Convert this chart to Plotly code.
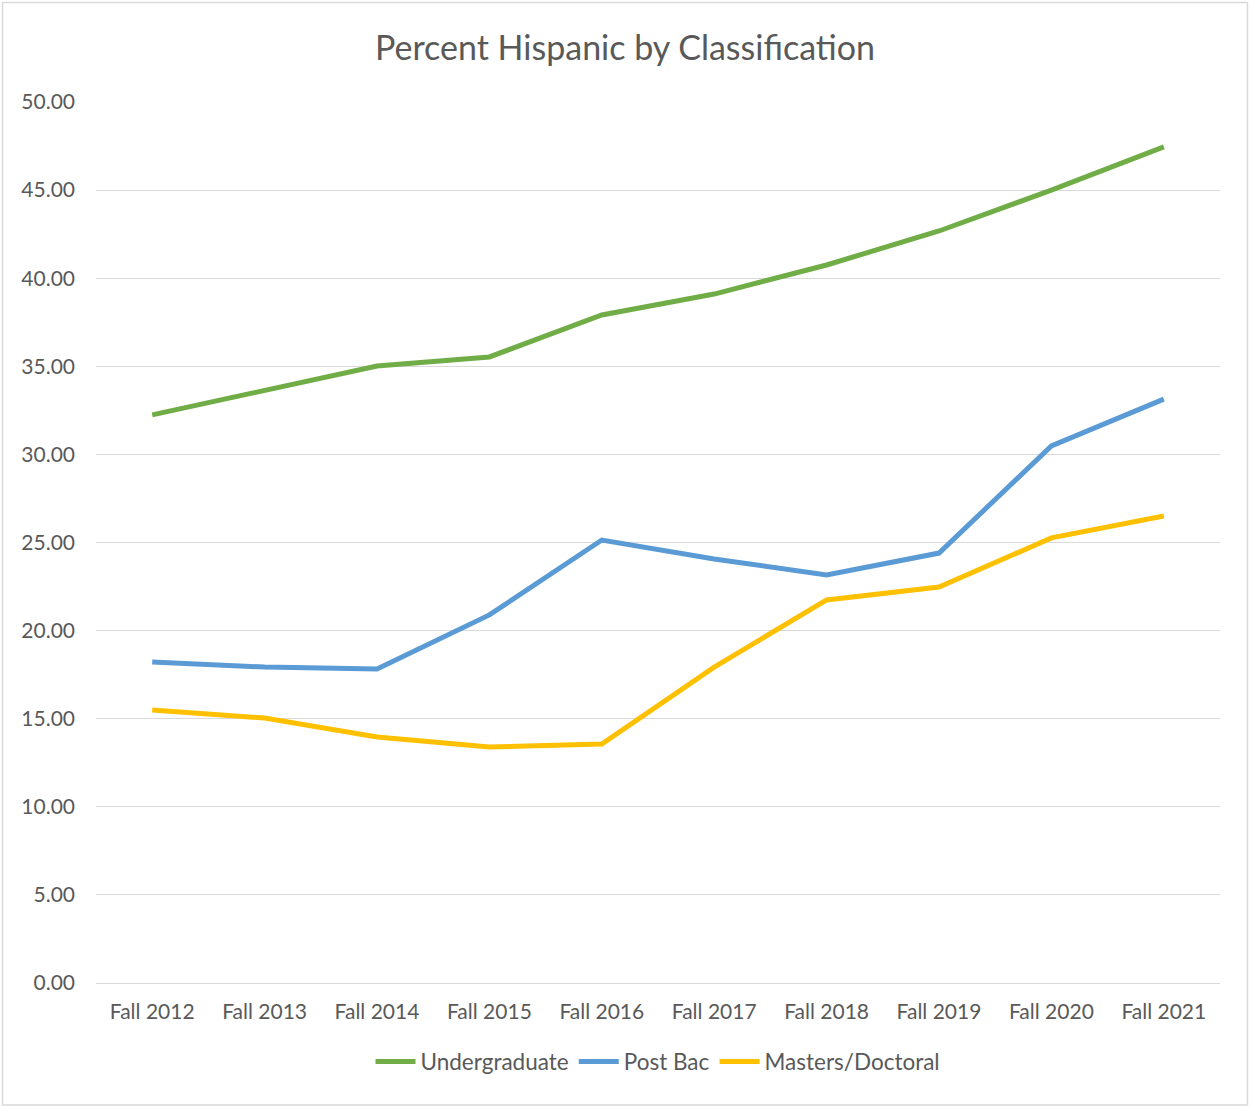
import plotly.graph_objects as go

years = ["Fall 2012", "Fall 2013", "Fall 2014", "Fall 2015", "Fall 2016",
         "Fall 2017", "Fall 2018", "Fall 2019", "Fall 2020", "Fall 2021"]
undergraduate = [32.24, 33.60, 35.02, 35.53, 37.91, 39.10, 40.75, 42.68, 45.00, 47.45]
post_bac = [18.22, 17.93, 17.82, 20.89, 25.14, 24.06, 23.16, 24.40, 30.48, 33.14]
masters_doctoral = [15.49, 15.04, 13.96, 13.39, 13.56, 17.93, 21.74, 22.47, 25.26, 26.50]

series = [
    ("Undergraduate", undergraduate, "#70AD47"),
    ("Post Bac", post_bac, "#5B9BD5"),
    ("Masters/Doctoral", masters_doctoral, "#FFC000"),
]

FONT = "Lato, Carlito, Calibri, sans-serif"
GREY = "#595959"

fig = go.Figure()
for name, values, color in series:
    fig.add_trace(go.Scatter(
        x=years, y=values, name=name, mode="lines",
        line=dict(color=color, width=5),
    ))

# plot area: x 96..1220, y 102..983
pw, ph = 1124, 881
fig.add_shape(
    type="rect", xref="paper", yref="paper", layer="below",
    x0=(2.5 - 96) / pw, x1=(1247.5 - 96) / pw,
    y0=(983 - 1105) / ph, y1=(983 - 2.5) / ph,
    line=dict(color="#D9D9D9", width=1.5),
)

fig.update_layout(
    width=1250, height=1107,
    margin=dict(l=96, r=30, t=102, b=124),
    paper_bgcolor="white", plot_bgcolor="white",
    font=dict(family=FONT, color=GREY, size=21),
    title=dict(text="Percent Hispanic by Classification", x=0.5, xanchor="center",
               y=1 - 48 / 1107, yanchor="middle",
               font=dict(family=FONT, size=34, color=GREY)),
    showlegend=True,
    legend=dict(orientation="h", x=0.5, xanchor="center", y=-0.065, yanchor="top",
                font=dict(family=FONT, size=22.5, color=GREY),
                itemwidth=40, tracegroupgap=0),
    xaxis=dict(range=[-0.5, 9.5], showgrid=False, showline=False, ticks="",
               ticklabelstandoff=14,
               tickfont=dict(family=FONT, size=21, color=GREY)),
    yaxis=dict(range=[0, 50], dtick=5, tickformat=".2f",
               showgrid=True, gridcolor="#D9D9D9", gridwidth=1.3,
               zeroline=True, zerolinecolor="#D9D9D9", zerolinewidth=1.3,
               showline=False, ticks="", ticklabelstandoff=20,
               tickfont=dict(family=FONT, size=21, color=GREY)),
)

fig.write_html("out.html", config={"displayModeBar": False},
               post_script="document.body.style.margin='0';"
               "document.body.style.overflow='hidden';")
